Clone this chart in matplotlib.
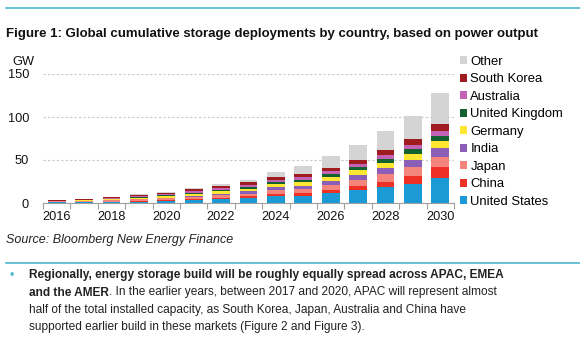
import numpy as np
import matplotlib.pyplot as plt
from matplotlib.lines import Line2D

plt.rcParams['font.family'] = ['Liberation Sans', 'DejaVu Sans']

years = list(range(2016, 2031))

# Cumulative deployments, GW
us = [0.6, 0.8, 1.0, 1.6, 2.2, 3.2, 4.2, 5.5, 7.8, 8.5, 11.6, 14.7, 18.6, 22.5, 29.5]
china = [0.3, 0.5, 0.7, 0.9, 1.1, 1.5, 1.8, 2.2, 3.1, 3.1, 3.9, 5.4, 6.2, 9.3, 12.4]
japan = [0.9, 1.2, 1.6, 1.9, 2.2, 2.6, 2.8, 3.0, 3.9, 4.7, 5.4, 6.2, 8.5, 10.1, 11.6]
india = [0.05, 0.1, 0.3, 0.5, 0.8, 1.4, 2.0, 2.8, 3.9, 3.9, 4.7, 6.2, 7.0, 8.5, 10.9]
germany = [0.4, 0.6, 0.9, 1.2, 1.5, 2.0, 2.6, 3.3, 3.9, 3.9, 4.7, 5.4, 6.2, 7.0, 7.8]
uk = [0.25, 0.4, 0.6, 0.9, 1.1, 1.5, 1.8, 2.2, 2.3, 3.1, 3.1, 3.9, 4.7, 5.4, 5.4]
australia = [0.15, 0.3, 0.5, 1.0, 1.3, 1.8, 2.0, 2.2, 2.3, 3.1, 3.9, 3.9, 4.7, 4.7, 6.2]
south_korea = [0.3, 0.5, 1.0, 1.4, 1.8, 2.2, 2.5, 2.8, 3.1, 3.1, 3.9, 4.7, 5.4, 7.0, 7.8]
other = [0.15, 0.3, 0.4, 0.7, 1.2, 1.6, 2.0, 3.0, 5.4, 9.3, 13.2, 17.0, 22.5, 27.1, 36.4]

series = [
    ('United States', us, '#1B9AD6'),
    ('China', china, '#EE3124'),
    ('Japan', japan, '#F4857D'),
    ('India', india, '#8B5FB8'),
    ('Germany', germany, '#FFE633'),
    ('United Kingdom', uk, '#13612F'),
    ('Australia', australia, '#C462B5'),
    ('South Korea', south_korea, '#9E1B1F'),
    ('Other', other, '#D4D4D4'),
]

teal = '#4DB8CC'

fig = plt.figure(figsize=(5.8, 3.46), dpi=100)
W, H = 580, 346


def fx(px):
    return px / W


def fy(py):
    return 1 - py / H


ax = fig.add_axes([fx(43), fy(203), fx(454) - fx(43), fy(74) - fy(203)])

x = np.arange(len(years))
bottom = np.zeros(len(years))
for label, vals, color in series:
    ax.bar(x, vals, width=0.65, bottom=bottom, color=color, label=label, zorder=3)
    bottom += np.array(vals)

ax.set_xlim(-0.5, len(years) - 0.5)
ax.set_ylim(0, 150)
ax.set_yticks([0, 50, 100, 150])
ax.yaxis.grid(True, color='#C8C8C8', linestyle=(0, (2, 2)), linewidth=0.8, zorder=0)

# category boundary ticks, labels on every other year
ax.set_xticks(np.arange(-0.5, len(years)), labels=[])
ax.set_xticks(x[::2], labels=[str(y) for y in years[::2]], minor=True)
ax.tick_params(axis='x', which='major', length=4, color='#A0A0A0', direction='out')
ax.tick_params(axis='x', which='minor', length=0, pad=6, labelsize=9.2, labelcolor='#111111')
ax.tick_params(axis='y', length=0, pad=10, labelsize=9.2, labelcolor='#111111')

for s in ['top', 'right', 'left']:
    ax.spines[s].set_visible(False)
ax.spines['bottom'].set_color('#A0A0A0')

fig.text(fx(12), fy(62), 'GW', fontsize=9.2, va='center', color='#111111')

handles, labels = ax.get_legend_handles_labels()
ax.legend(handles[::-1], labels[::-1], loc='upper left',
          bbox_to_anchor=(fx(460), fy(56)), bbox_transform=fig.transFigure,
          frameon=False, fontsize=9.4, handlelength=0.55, handleheight=0.55,
          handletextpad=0.25, labelspacing=0.42, borderpad=0, borderaxespad=0)

# rules, title and notes
fig.add_artist(Line2D([fx(6), 1], [fy(8), fy(8)], color=teal, linewidth=1.2))
fig.text(fx(6), fy(34), 'Figure 1: Global cumulative storage deployments by country, based on power output',
         fontsize=9.55, fontweight='bold', va='center', color='#111111')
fig.text(fx(6), fy(240), 'Source: Bloomberg New Energy Finance',
         fontsize=9.0, style='italic', va='center', color='#222222')
fig.add_artist(Line2D([fx(6), 1], [fy(263), fy(263)], color=teal, linewidth=1.2))

fig.text(fx(9), fy(276), '•', fontsize=9, va='center', color=teal)
body_kw = dict(fontsize=8.6, va='center', color='#222222')
fig.text(fx(29), fy(275), 'Regionally, energy storage build will be roughly equally spread across APAC, EMEA',
         fontweight='bold', **body_kw)
bold_part = fig.text(fx(29), fy(292.5), 'and the AMER', fontweight='bold', **body_kw)
renderer = fig.canvas.get_renderer()
bb = bold_part.get_window_extent(renderer)
fig.text(bb.x1 / fig.bbox.width, fy(292.5),
         '. In the earlier years, between 2017 and 2020, APAC will represent almost', **body_kw)
fig.text(fx(29), fy(310), 'half of the total installed capacity, as South Korea, Japan, Australia and China have',
         **body_kw)
fig.text(fx(29), fy(327), 'supported earlier build in these markets (Figure 2 and Figure 3).', **body_kw)

fig.savefig('out.png', dpi=100)
